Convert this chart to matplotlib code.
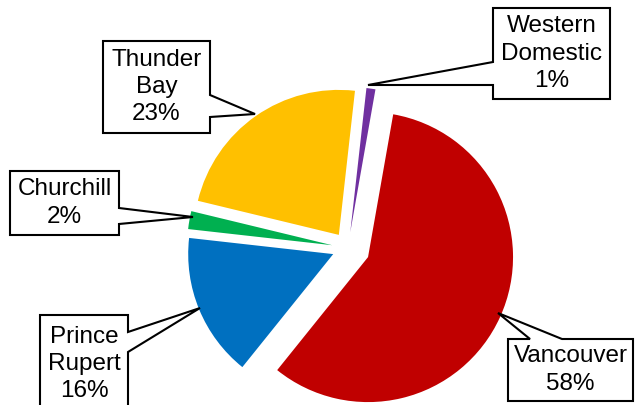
import matplotlib.pyplot as plt
from matplotlib.patches import Polygon

W, H = 635, 405

ports = ['Vancouver', 'Prince Rupert', 'Churchill', 'Thunder Bay', 'Western Domestic']
shares = [58, 16, 2, 23, 1]
colors = ['#C00000', '#0070C0', '#00B050', '#FFC000', '#7030A0']
# offsets in pixels (pie drawn in pixel units)
explode = [22, 16, 16, 16, 16]

label_text = ['Vancouver', 'Prince\nRupert', 'Churchill', 'Thunder\nBay', 'Western\nDomestic']

# callout boxes in pixel coords (y down): box, side with the wedge, wedge span, tip
callouts = {
    'Vancouver': ((508, 339, 633, 401), 'top', (530, 562), (498, 313)),
    'Prince Rupert': ((40, 315, 128, 425), 'right', (332, 352), (200, 308)),
    'Churchill': ((10, 171, 119, 235), 'right', (208, 224), (193, 217)),
    'Thunder Bay': ((103, 41, 210, 133), 'right', (95, 117), (255, 114)),
    'Western Domestic': ((493, 8, 610, 99), 'left', (62, 85), (368, 85)),
}


def fy(y):
    return H - y


def callout_poly(box, side, span, tip):
    x0, y0, x1, y1 = box
    a, b = span
    if side == 'right':
        pts = [(x0, y0), (x1, y0), (x1, a), tip, (x1, b), (x1, y1), (x0, y1)]
    elif side == 'left':
        pts = [(x0, y0), (x1, y0), (x1, y1), (x0, y1), (x0, b), tip, (x0, a)]
    else:  # top
        pts = [(x0, y0), (a, y0), tip, (b, y0), (x1, y0), (x1, y1), (x0, y1)]
    return [(x, fy(y)) for x, y in pts]


fig = plt.figure(figsize=(6.35, 4.05), dpi=100)
ax = fig.add_axes([0, 0, 1, 1])

ax.pie(shares, colors=colors, explode=explode, startangle=80, counterclock=False,
       center=(348, fy(248)), radius=145, frame=True,
       wedgeprops={'linewidth': 0})
ax.set_xlim(0, W)
ax.set_ylim(0, H)
ax.set_aspect('equal')
ax.axis('off')

for name, share, txt in zip(ports, shares, label_text):
    box, side, span, tip = callouts[name]
    poly = Polygon(callout_poly(box, side, span, tip), closed=True,
                   facecolor='white', edgecolor='black', linewidth=1.5, zorder=5)
    ax.add_patch(poly)
    x0, y0, x1, y1 = box
    cy = (y0 + min(y1, 401)) / 2
    if name == 'Prince Rupert':
        cy = 364
    ax.text((x0 + x1) / 2, fy(cy), f'{txt}\n{share}%', ha='center', va='center',
            fontsize=17.5, family='Liberation Sans', linespacing=1.3, zorder=6)

fig.savefig('out.png', dpi=100)
